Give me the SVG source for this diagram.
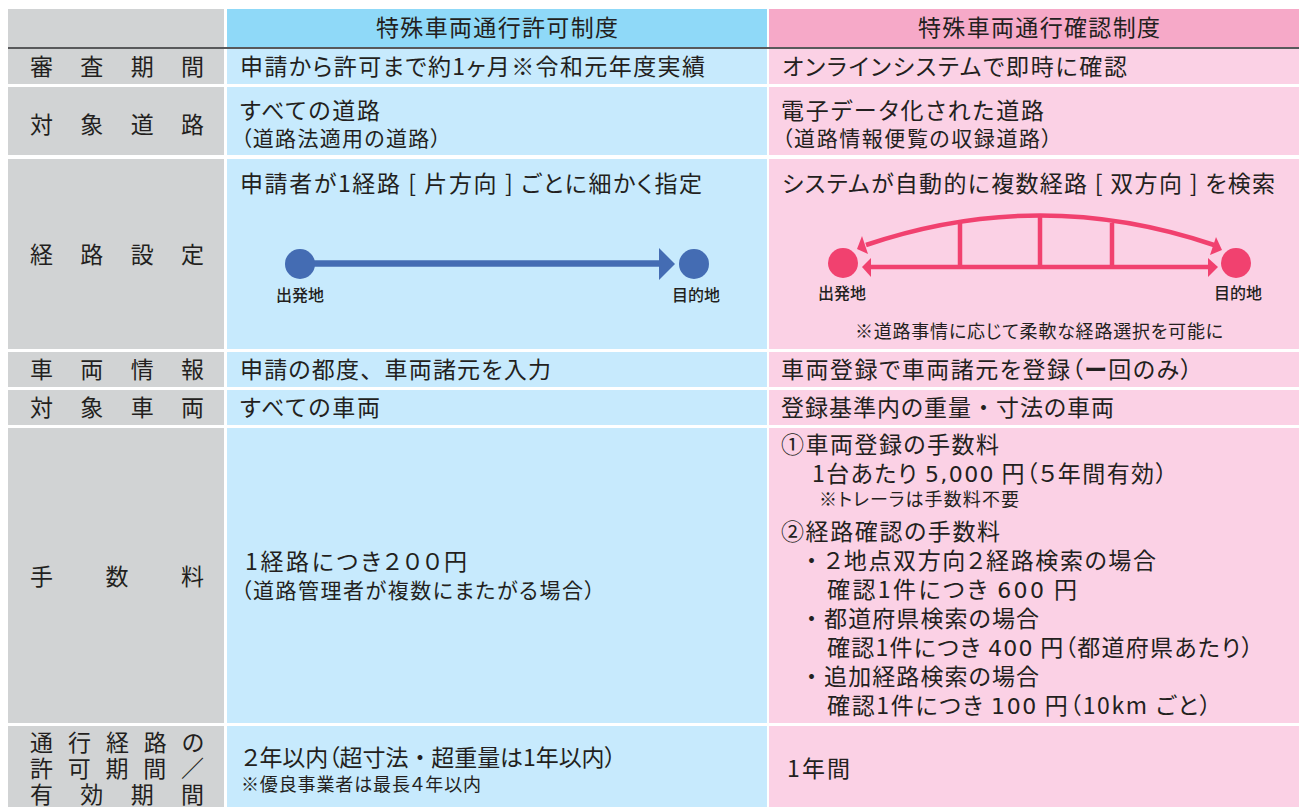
<svg xmlns="http://www.w3.org/2000/svg" width="1299" height="807" viewBox="0 0 1299 807">
<style>
text{font-family:"Noto Sans CJK JP","Noto Sans CJK SC",sans-serif;fill:#231f20;font-size:23px;font-weight:400;font-feature-settings:"palt"}
.g{fill:#d1d3d4}.b{fill:#c7eafd}.p{fill:#fbd1e5}
.s{font-size:18px}.m{font-size:21px}.t{font-size:16px;font-weight:500}
.n{font-family:"DejaVu Sans",sans-serif;font-size:22px}
.b5{font-weight:700}
.f{font-feature-settings:normal}
</style>
<rect width="1299" height="807" fill="#fff"/>
<g id="cells">
<rect class="g" x="8" y="9" width="216" height="38"/><rect x="227" y="9" width="540" height="38" fill="#8fd9f8"/><rect x="769" y="9" width="530" height="38" fill="#f6a9c8"/>
<rect x="8" y="47" width="1291" height="2" fill="#58595b"/>
<rect class="g" x="8" y="49" width="216" height="35"/><rect class="b" x="227" y="49" width="540" height="35"/><rect class="p" x="769" y="49" width="530" height="35"/>
<rect class="g" x="8" y="87" width="216" height="68"/><rect class="b" x="227" y="87" width="540" height="68"/><rect class="p" x="769" y="87" width="530" height="68"/>
<rect class="g" x="8" y="159" width="216" height="190"/><rect class="b" x="227" y="159" width="540" height="190"/><rect class="p" x="769" y="159" width="530" height="190"/>
<rect class="g" x="8" y="352" width="216" height="35"/><rect class="b" x="227" y="352" width="540" height="35"/><rect class="p" x="769" y="352" width="530" height="35"/>
<rect class="g" x="8" y="390" width="216" height="35"/><rect class="b" x="227" y="390" width="540" height="35"/><rect class="p" x="769" y="390" width="530" height="35"/>
<rect class="g" x="8" y="428" width="216" height="295"/><rect class="b" x="227" y="428" width="540" height="295"/><rect class="p" x="769" y="428" width="530" height="295"/>
<rect class="g" x="8" y="726" width="216" height="81"/><rect class="b" x="227" y="726" width="540" height="81"/><rect class="p" x="769" y="726" width="530" height="81"/>
</g>
<g id="connectors" fill="none">
<path d="M300 263.500H662" stroke="#446cb3" stroke-width="6.500"/>
<polygon points="659,248 675,264 659,280" fill="#446cb3"/>
<g stroke="#f1416f" stroke-width="4.500">
<path d="M868 267H1212"/>
<path d="M866 245Q1040 186 1214 245"/>
<path d="M960 267V223M1040 267V216M1112 267V223"/>
</g>
<g fill="#f1416f">
<polygon points="862,267 871,258 871,277"/><polygon points="1218,267 1208,258 1208,277"/>
<polygon points="857,249 862,236 868,254"/><polygon points="1222,250 1216,237 1210,255"/>
</g>
</g>
<g id="node-start-a"><circle cx="300" cy="264" r="15" fill="#446cb3"/><text class="t" x="300" y="301" text-anchor="middle">出発地</text></g>
<g id="node-end-a"><circle cx="694" cy="264" r="15" fill="#446cb3"/><text class="t" x="696" y="301" text-anchor="middle">目的地</text></g>
<g id="node-start-b"><circle cx="843" cy="263" r="15" fill="#f1416f"/><text class="t" x="842" y="299" text-anchor="middle">出発地</text></g>
<g id="node-end-b"><circle cx="1236" cy="263" r="15" fill="#f1416f"/><text class="t" x="1238" y="299" text-anchor="middle">目的地</text></g>
<g id="labels">
<text x="30" y="75" textLength="174">審査期間</text>
<text x="30" y="133" textLength="174">対象道路</text>
<text x="30" y="263" textLength="174">経路設定</text>
<text x="30" y="378" textLength="174">車両情報</text>
<text x="30" y="416" textLength="174">対象車両</text>
<text x="30" y="585" textLength="174">手数料</text>
<text x="30" y="751" textLength="174">通行経路の</text>
<text x="30" y="777" textLength="174">許可期間／</text>
<text x="30" y="803" textLength="174">有効期間</text>
</g>
<g id="col-a">
<text x="376" y="36" textLength="242">特殊車両通行許可制度</text>
<text x="240" y="75" textLength="465">申請から許可まで約1ヶ月<tspan class="f">※</tspan>令和元年度実績</text>
<text x="240" y="119" textLength="140">すべての道路</text>
<text class="m" x="241" y="146" textLength="200">（道路法適用の道路）</text>
<text x="240" y="192" textLength="462">申請者が1経路 [ 片方向 ] ごとに細かく指定</text>
<text x="240" y="378" textLength="311">申請の都度<tspan class="f">、</tspan>車両諸元を入力</text>
<text x="240" y="416" textLength="140">すべての車両</text>
<text x="245" y="570" textLength="222">1経路につき２００円</text>
<text class="m" x="241" y="598" textLength="354">（道路管理者が複数にまたがる場合）</text>
<text x="242" y="766" textLength="374">２年以内（超寸法<tspan class="f">・</tspan>超重量は1年以内）</text>
<text class="s" x="241" y="791" textLength="240">※優良事業者は最長４年以内</text>
</g>
<g id="col-b">
<text x="918" y="36" textLength="242">特殊車両通行確認制度</text>
<text x="782" y="75" textLength="345">オンラインシステムで即時に確認</text>
<text x="781" y="119" textLength="263">電子データ化された道路</text>
<text class="m" x="782" y="146" textLength="270">（道路情報便覧の収録道路）</text>
<text x="782" y="192" textLength="493">システムが自動的に複数経路 [ 双方向 ] を検索</text>
<text class="s" x="855" y="338" textLength="368">※道路事情に応じて柔軟な経路選択を可能に</text>
<text x="781" y="378" textLength="411">車両登録で車両諸元を登録（<tspan class="b5">ー</tspan>回のみ）</text>
<text x="781" y="416" textLength="333">登録基準内の重量<tspan class="f">・</tspan>寸法の車両</text>
<text x="781" y="453" textLength="218">①車両登録の手数料</text>
<text x="812" y="482" textLength="355">1台あたり <tspan class="n">5,000</tspan> 円（５年間有効）</text>
<text class="s" x="819" y="506" textLength="200">※トレーラは手数料不要</text>
<text x="781" y="540" textLength="219">②経路確認の手数料</text>
<text x="800" y="569" textLength="356"><tspan class="f">・</tspan>２地点双方向２経路検索の場合</text>
<text x="827" y="598" textLength="250">確認1件につき <tspan class="n">600</tspan> 円</text>
<text x="800" y="627" textLength="239"><tspan class="f">・</tspan>都道府県検索の場合</text>
<text x="827" y="656" textLength="426">確認1件につき <tspan class="n">400</tspan> 円（都道府県あたり）</text>
<text x="800" y="685" textLength="239"><tspan class="f">・</tspan>追加経路検索の場合</text>
<text x="827" y="714" textLength="384">確認1件につき <tspan class="n">100</tspan> 円（10km ごと）</text>
<text x="787" y="777" textLength="63">1年間</text>
</g>
</svg>
